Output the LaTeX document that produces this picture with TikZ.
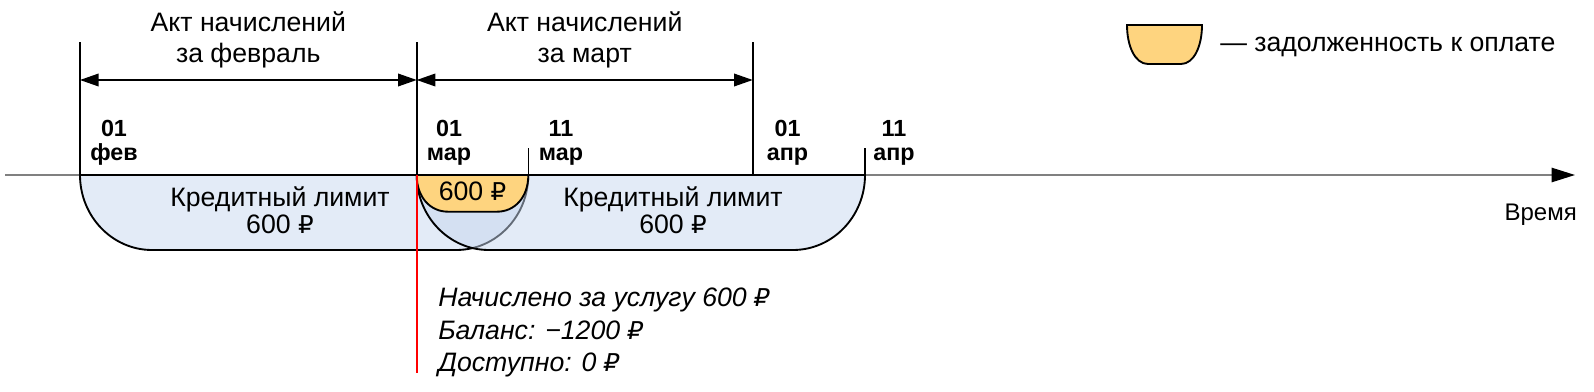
\documentclass[tikz,border=0pt]{standalone}
\usepackage{fontspec}
\setmainfont{Liberation Sans}
\newfontfamily\rubfont[Scale=0.92]{DejaVu Sans}
\newcommand\rub{{\rubfont ₽}}
\usepackage{xcolor}
\usetikzlibrary{arrows.meta}

\definecolor{limitblue}{RGB}{227,235,247}
\definecolor{limitblue2}{RGB}{199,215,239}
\definecolor{debtorange}{RGB}{254,212,127}
\definecolor{axisgray}{RGB}{128,128,128}

\tikzset{
  lbl/.style={font=\fontsize{20}{23.25}\selectfont, align=center, inner sep=0pt},
  limlbl/.style={font=\fontsize{20}{19.9}\selectfont, align=center, inner sep=0pt},
  datelbl/.style={font=\fontsize{17.5}{18.3}\selectfont\bfseries, align=center, inner sep=0pt},
  notelbl/.style={font=\fontsize{20}{24.4}\selectfont\itshape, align=left, inner sep=0pt},
  mark line/.style={line width=1.2pt},
  limit/.style={fill=limitblue, draw=black, line width=1.4pt},
}

\begin{document}
\begin{tikzpicture}[x=0.75pt,y=-0.75pt,>={Triangle[length=14pt,width=9.5pt]}]
  \useasboundingbox (0,0) rectangle (1594,392);
  % points on the time axis
  \coordinate (feb1) at (80,175);
  \coordinate (mar1) at (416.7,175);
  \coordinate (mar11) at (528.3,175);
  \coordinate (apr1) at (752.7,175);
  \coordinate (apr11) at (865,175);
  \coordinate (axstart) at (5,175);
  \coordinate (axend) at (1575,175);
  \coordinate (top) at (0,42);
  \coordinate (span) at (0,80);
  \coordinate (short) at (0,148);
  \coordinate (redend) at (416.7,373);

  % time axis
  \draw[axisgray, line width=1.3pt, -{Triangle[length=17.5pt,width=10.7pt,color=black]}] (axstart) -- (axend);

  % acts
  \draw[mark line] (feb1) -- (feb1 |- top);
  \draw[mark line] (mar1) -- (mar1 |- top);
  \draw[mark line] (apr1) -- (apr1 |- top);
  \draw[mark line] (mar11) -- (mar11 |- short);
  \draw[mark line] (apr11) -- (apr11 |- short);
  \draw[<->, line width=1.1pt] (feb1 |- span) -- (mar1 |- span);
  \draw[<->, line width=1.1pt] (mar1 |- span) -- (apr1 |- span);
  \node[lbl, anchor=base] (actfeb) at (248.3,63) {Акт начислений\\за февраль};
  \node[lbl, anchor=base] (actmar) at (584.7,63) {Акт начислений\\за март};

  % dates
  \node[datelbl, anchor=base] (dfeb1) at (114,161) {01\\фев};
  \node[datelbl, anchor=base] (dmar1) at (449,161) {01\\мар};
  \node[datelbl, anchor=base] (dmar11) at (561,161) {11\\мар};
  \node[datelbl, anchor=base] (dapr1) at (787.5,161) {01\\апр};
  \node[datelbl, anchor=base] (dapr11) at (894,161) {11\\апр};

  % credit limits
  \path[limit] (feb1) .. controls (80,216.4) and (112.3,250) .. (152,250)
    -- (456.3,250) .. controls (496,250) and (528.3,216.4) .. (mar11) -- cycle;
  \path[limit, fill=limitblue2, fill opacity=0.5] (mar1) .. controls (416.7,216.4) and (449,250) .. (488.7,250)
    -- (793,250) .. controls (832.7,250) and (865,216.4) .. (apr11) -- cycle;
  \path[limit, fill=debtorange] (mar1) .. controls (416.7,197) and (430,211.7) .. (448,211.7)
    -- (497,211.7) .. controls (515,211.7) and (528.3,197) .. (mar11) -- cycle;
  \node[limlbl, anchor=base] (limfeb) at (280,233) {Кредитный лимит\\600 \rub};
  \node[limlbl, anchor=base] (limmar) at (673,233) {Кредитный лимит\\600 \rub};
  \node[lbl, anchor=base] (debt) at (472.5,200.7) {600 \rub};

  % accrual on 01 mar
  \draw[red, line width=1.6pt] (mar1) -- (redend);
  \node[notelbl, anchor=base west] (accrual) at (438,371.7) {Начислено за услугу 600 \rub\\Баланс: −1200 \rub\\Доступно: 0 \rub};

  \node[lbl, font=\fontsize{18}{22}\selectfont, anchor=base east] (time) at (1577,220) {Время};

  % legend
  \path[limit, fill=debtorange] (1127,25) .. controls (1127,46) and (1135,64) .. (1148,64)
    -- (1181,64) .. controls (1194,64) and (1202,46) .. (1202,25) -- cycle;
  \node[lbl, anchor=base west] (legend) at (1220,51.7) {— задолженность к оплате};
\end{tikzpicture}
\end{document}
